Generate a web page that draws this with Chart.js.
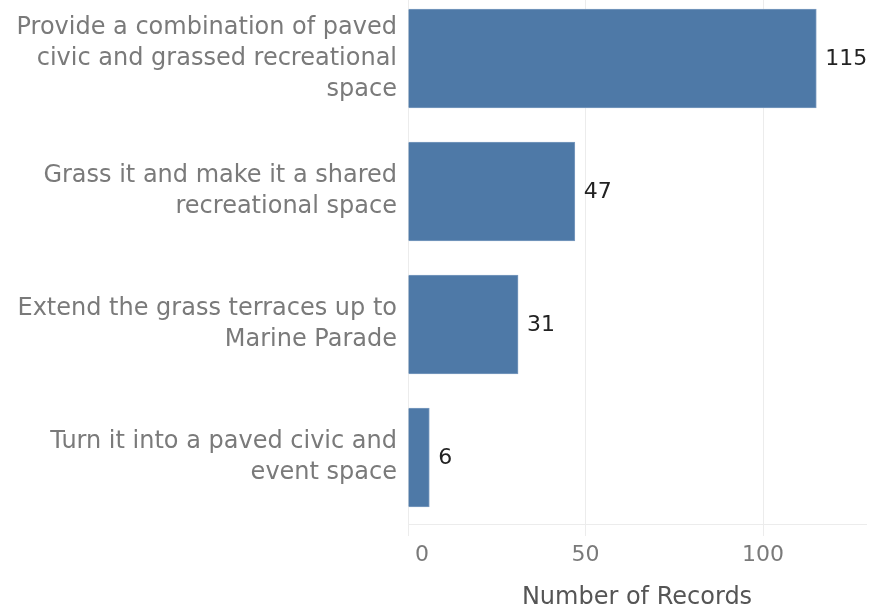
<!DOCTYPE html>
<html>
<head>
<meta charset="utf-8">
<script src="https://cdn.jsdelivr.net/npm/chart.js@4/dist/chart.umd.min.js"></script>
<style>
  html, body { margin: 0; padding: 0; background: #fff; overflow: hidden; }
  /* wrapper sits slightly above the page so the top band starts off-screen */
  .wrap { position: absolute; left: 0; top: -8px; width: 869px; height: 620px; }
</style>
</head>
<body>
<div class="wrap"><canvas id="recordsChart"></canvas></div>
<script>
// --- data ---
const categories = [
    ['Provide a combination of paved', 'civic and grassed recreational', 'space'],
    ['Grass it and make it a shared', 'recreational space'],
    ['Extend the grass terraces up to', 'Marine Parade'],
    ['Turn it into a paved civic and', 'event space']
];
const records = [115, 47, 31, 6];
const xTicks = [0, 50, 100];

const FONT = "'DejaVu Sans', Verdana, sans-serif";
const BAR = '#4e79a7';
const GREY = '#7a7a7a';
const GRID = '#ececec';

// value labels to the right of each bar
const barValues = {
    id: 'barValues',
    afterDatasetsDraw(chart) {
        const ctx = chart.ctx;
        const meta = chart.getDatasetMeta(0);
        ctx.save();
        ctx.font = `22px ${FONT}`;
        ctx.fillStyle = '#222';
        ctx.textAlign = 'left';
        ctx.textBaseline = 'middle';
        meta.data.forEach((bar, i) => {
            ctx.fillText(String(records[i]), bar.x + 9, bar.y + 1);
        });
        ctx.restore();
    }
};

new Chart(document.getElementById('recordsChart'), {
    type: 'bar',
    data: {
        labels: categories,
        datasets: [{
            data: records,
            backgroundColor: BAR,
            borderColor: '#7d9cc0',
            borderWidth: 1,
            barThickness: 99
        }]
    },
    options: {
        indexAxis: 'y',
        responsive: true,
        maintainAspectRatio: false,
        animation: false,
        layout: { padding: { left: 0, right: 3, top: 0, bottom: 0 } },
        plugins: {
            legend: { display: false },
            tooltip: { enabled: false }
        },
        scales: {
            x: {
                min: 0,
                max: 129,
                afterBuildTicks: s => { s.ticks = xTicks.map(v => ({ value: v })); },
                afterFit: s => { s.height = 88; s.paddingLeft = 0; s.paddingRight = 0; },
                grid: { color: GRID, lineWidth: 1, tickLength: 12, drawOnChartArea: true },
                border: { display: true, color: GRID },
                ticks: {
                    color: GREY,
                    padding: 6,
                    font: { family: FONT, size: 22 },
                    callback: v => v === 0 ? '    0' : v
                },
                title: {
                    display: true,
                    text: 'Number of Records',
                    color: '#555',
                    font: { family: FONT, size: 24 },
                    padding: { top: 8, bottom: 0 }
                }
            },
            y: {
                afterFit: s => { s.width = 408; s.paddingTop = 0; s.paddingBottom = 0; },
                grid: { display: false, drawTicks: false },
                border: { display: true, color: GRID },
                ticks: {
                    color: GREY,
                    padding: 11,
                    font: { family: FONT, size: 24, lineHeight: 1.3 }
                }
            }
        }
    },
    plugins: [barValues]
});
</script>
</body>
</html>
